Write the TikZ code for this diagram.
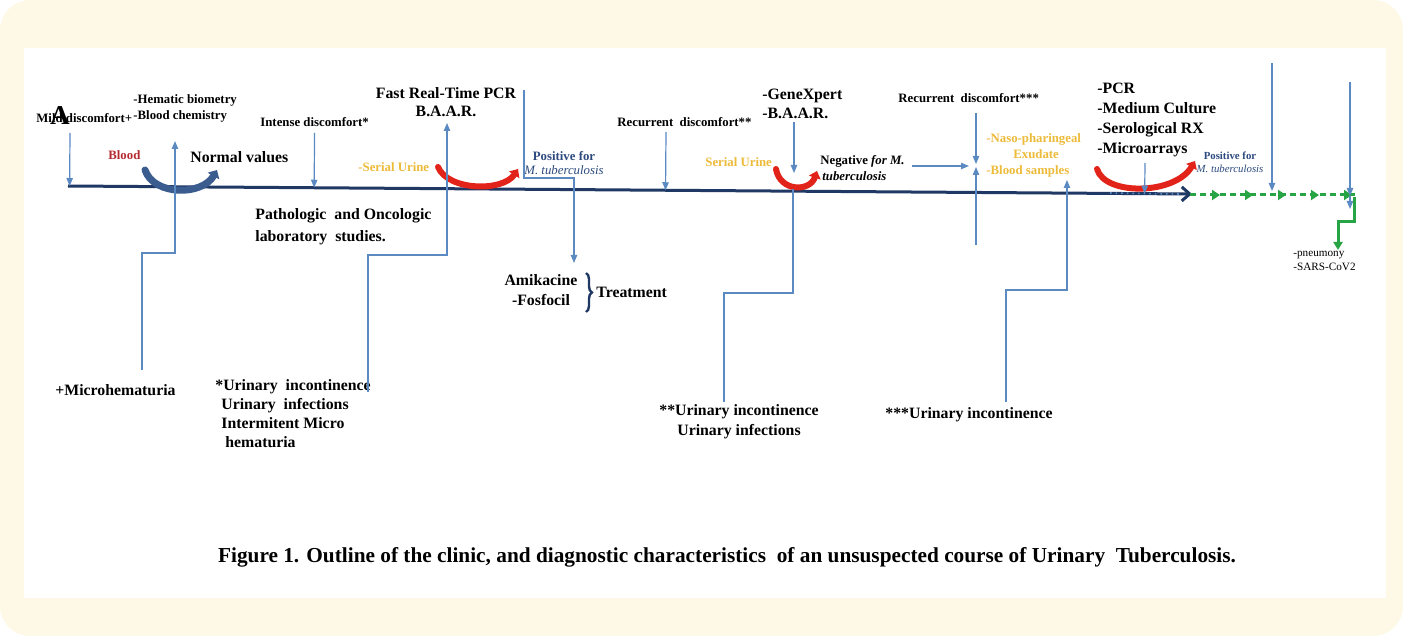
\documentclass[tikz,border=0pt]{standalone}
\usepackage{fontspec}
\setmainfont{Liberation Serif}
\usetikzlibrary{arrows.meta,calc,decorations.pathreplacing,decorations.markings}

\definecolor{paper}{HTML}{FDF9E6}
\definecolor{navy}{HTML}{1F3864}
\definecolor{linkblue}{HTML}{5B8AC2}
\definecolor{arcblue}{HTML}{3B5C8F}
\definecolor{arcred}{HTML}{E2231A}
\definecolor{amber}{HTML}{EDBB3A}
\definecolor{bloodred}{HTML}{B52A30}
\definecolor{tbnavy}{HTML}{2C4A7E}
\definecolor{covgreen}{HTML}{27A544}

\tikzset{
  lbl/.style={inner sep=0pt, font=\bfseries\fontsize{6.4}{8}\selectfont},
  big/.style={inner sep=0pt, font=\bfseries\fontsize{7.9}{10}\selectfont},
  tinylbl/.style={inner sep=0pt, font=\fontsize{5.6}{7}\selectfont},
  link/.style={linkblue, line width=0.6pt, -{Triangle[length=4pt,width=3.2pt]}},
  bare/.style={linkblue, line width=0.6pt},
  arcb/.style={arcblue, line width=3.5pt, line cap=round, -{Triangle[length=3.5pt,width=6.5pt]}},
  arcr/.style={arcred, line width=3pt, line cap=round, -{Triangle[length=3.5pt,width=6pt]}},
  timeline/.style={navy, line width=1.5pt, -{Straight Barb[length=4pt,width=7pt]}},
}

\begin{document}
\begin{tikzpicture}[x=0.5pt,y=-0.5pt]
  % frame
  \fill[paper, rounded corners=15pt] (0,0) rectangle (1403,636);
  \fill[white] (24,48) rectangle (1386,598);
  \useasboundingbox (0,0) rectangle (1403,636);

  % time line
  \coordinate (start) at (68,186);
  \coordinate (stop) at (1192,194);
  \draw[timeline] (start) -- (stop);
  \draw[linkblue, line width=0.8pt, dotted] (1110,193) -- (1180,194);

  % labels above the line
  \node[lbl, anchor=west] (mild) at (36,118) {Mild discomfort+};
  \node[inner sep=0pt, font=\bfseries\fontsize{13.6}{14}\selectfont] (panel) at (60,116) {A};
  \node[lbl, anchor=west, align=left] (labs) at (133,108) {-Hematic biometry\\-Blood chemistry};
  \node[lbl, anchor=west, text=bloodred] (blood) at (108,155) {Blood};
  \node[big, anchor=west] (normal) at (190,157) {Normal values};
  \node[lbl, anchor=west] (intense) at (260,122) {Intense discomfort*};
  \node[big, align=center, font=\bfseries\fontsize{7.9}{9}\selectfont] (pcr) at (446,102) {Fast Real-Time PCR\\B.A.A.R.};
  \node[lbl, anchor=west, text=amber] (urine1) at (358,167) {-Serial Urine};
  \node[lbl, align=center, text=tbnavy, font=\bfseries\fontsize{6.4}{7}\selectfont] (pos1) at (564,163) {Positive for\\{\mdseries\itshape M. tuberculosis}};
  \node[lbl, anchor=west] (rec2) at (617,122) {Recurrent\ \ discomfort**};
  \node[big, anchor=west, align=left, font=\bfseries\fontsize{7.9}{9.5}\selectfont] (gx) at (762,104) {-GeneXpert\\-B.A.A.R.};
  \node[lbl, anchor=west, text=amber] (urine2) at (705,162) {Serial Urine};
  \node[lbl, anchor=west, align=left] (neg) at (820,168) {Negative \textit{for M.}\\\hspace{1pt}\textit{tuberculosis}};
  \node[lbl, anchor=west] (rec3) at (898,98) {Recurrent\ \ discomfort***};
  \node[lbl, anchor=west, align=left, text=amber] (naso) at (986,155) {-Naso-pharingeal\\\hspace{13.5pt}Exudate\\-Blood samples};
  \node[big, anchor=west, align=left] (tests) at (1097,120) {-PCR\\-Medium Culture\\-Serological RX\\-Microarrays};
  \node[align=center, text=tbnavy, inner sep=0pt, font=\bfseries\fontsize{5.4}{6.5}\selectfont] (pos2) at (1230,162) {Positive for\\{\mdseries\itshape M. tuberculosis}};

  % labels below the line
  \node[big, anchor=west, align=left, font=\bfseries\fontsize{7.9}{11}\selectfont] (patho) at (255,227) {Pathologic\ \ and Oncologic\\laboratory\ \ studies.};
  \node[big, align=center] (drugs) at (541,290) {Amikacine\\-Fosfocil};
  \draw[navy, line width=1.2pt, decorate, decoration={brace, amplitude=3pt}] (586,273) -- (586,312);
  \node[big, anchor=west] (treat) at (596,292) {Treatment};
  \node[tinylbl, anchor=west, align=left] (covid) at (1293,261) {-pneumony\\-SARS-CoV2};
  \node[big, anchor=west] (mh) at (55,390) {+Microhematuria};
  \node[big, anchor=west, align=left, font=\bfseries\fontsize{7.9}{9.5}\selectfont] (ui1) at (215,413.5) {*Urinary\ \ incontinence\\\hspace{3pt}Urinary\ \ infections\\\hspace{3pt}Intermitent Micro\\\hspace{5pt}hematuria};
  \node[big, align=center] (ui2) at (739,422) {**Urinary incontinence\\Urinary infections};
  \node[big, anchor=west] (ui3) at (885,415) {***Urinary incontinence};

  % caption
  \node[inner sep=0pt, font=\bfseries\fontsize{10.65}{12}\selectfont] (cap) at (727,557) {Figure 1. Outline of the clinic, and diagnostic characteristics\ \ of an unsuspected course of Urinary\ \ Tuberculosis.};

  % curved arrows
  \draw[arcb] (145,170) .. controls (154,196) and (202,196) .. (217,170);
  \draw[arcr] (438,167) .. controls (448,191) and (503,192) .. (518,169);
  \draw[arcr] (776,169) .. controls (780,192) and (810,192) .. (817,171);
  \draw[arcr] (1097,169) .. controls (1105,196) and (1175,195) .. (1195,161);

  % connectors
  \coordinate (mildtop) at (70,133);
  \coordinate (rec2top) at (666,132);
  \coordinate (gxtop) at (794,122);
  \coordinate (gxtip) at (794,173);
  \coordinate (arraystop) at (1145,163);
  \draw[link] (mildtop) -- ($(start)!(mildtop)!(stop)$);
  \draw[link, shorten <=3pt] (intense.south) -- ($(start)!(intense.south)!(stop)$);
  \draw[link] (rec2top) -- ($(start)!(rec2top)!(stop)$);
  \draw[link] (gxtop) -- (gxtip);
  \draw[link] (arraystop) -- ($(start)!(arraystop)!(stop)$);

  \coordinate (mhfoot) at (142,370);
  \coordinate (mhbend) at (142,253);
  \coordinate (labtip) at (175,141);
  \draw[link] (mhfoot) -- (mhbend) -| (labtip);

  \coordinate (ui1foot) at (368,392);
  \coordinate (ui1bend) at (368,255);
  \coordinate (pcrtip) at (447,123);
  \draw[link] (ui1foot) -- (ui1bend) -| (pcrtip);

  \coordinate (postop) at (524,90);
  \coordinate (posbend) at (524,178);
  \coordinate (drugtip) at (574,263);
  \draw[link] (postop) -- (posbend) -| (drugtip);

  \coordinate (ui2foot) at (724,402);
  \coordinate (ui2bend) at (724,293);
  \coordinate (ui2top) at (793,189);
  \draw[bare] (ui2foot) -- (ui2bend) -| (ui2top);

  \coordinate (negtail) at (912,166);
  \coordinate (negtip) at (969,166);
  \draw[link] (negtail) -- (negtip);

  \coordinate (rec3top) at (976,113);
  \coordinate (rec3foot) at (976,245);
  \draw[link] (rec3top) -- (976,164);
  \draw[link] (rec3foot) -- (976,167);

  \coordinate (ui3foot) at (1006,402);
  \coordinate (ui3bend) at (1006,290);
  \coordinate (nasotip) at (1067,180);
  \draw[link] (ui3foot) -- (ui3bend) -| (nasotip);

  % after the time line
  \coordinate (dashend) at (1355,195);
  \draw[covgreen, line width=1.5pt, dash pattern=on 3pt off 2pt,
        postaction={decorate},
        decoration={markings, mark=between positions 15pt and 82pt step 16.5pt with {\arrow{Triangle[length=4pt,width=5pt]}}}]
        (1190,195) -- (dashend);
  \coordinate (eventA) at (1272,63);
  \coordinate (eventB) at (1350,82);
  \draw[link] (eventA) -- (1272,191);
  \draw[link] (eventB) -- (1350,196);
  \draw[link] (1350,196) -- (1350,209);
  \coordinate (covbend) at (1338,222);
  \draw[covgreen, line width=1.5pt, -{Triangle[length=4pt,width=4.5pt]}] (1354,197) |- (covbend) -- (1338,250);
\end{tikzpicture}
\end{document}
